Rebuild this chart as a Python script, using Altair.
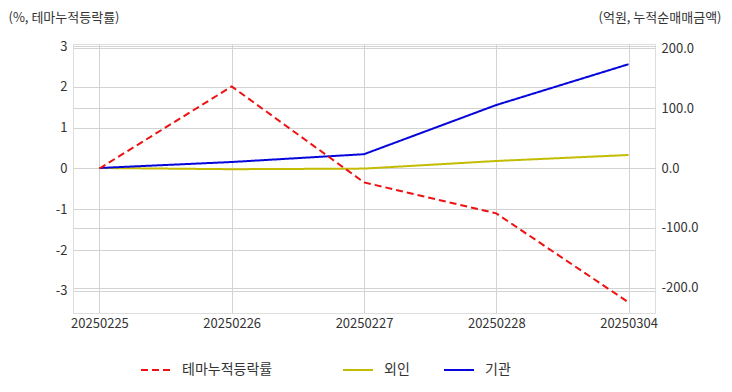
import altair as alt
import pandas as pd

dates = ["20250225", "20250226", "20250227", "20250228", "20250304"]
theme_rate = [0.0, 2.01, -0.34, -1.10, -3.28]
foreign = [0.0, -2.0, -1.0, 11.7, 21.7]
institution = [0.0, 10.0, 23.0, 105.0, 173.0]

left_names = ["테마누적등락률"]
right_names = ["외인", "기관"]
left_colors = ["#ee1111"]
right_colors = ["#c3bc00", "#0505dc"]
left_dash = [[7, 4]]
right_dash = [[1, 0], [1, 0]]

left_ticks = [-3, -2, -1, 0, 1, 2, 3]
right_ticks = [-200, -100, 0, 100, 200]

FONT = "Noto Sans CJK KR"

df_left = pd.DataFrame({"date": dates, "value": theme_rate, "series": left_names[0]})
df_right = pd.concat([
    pd.DataFrame({"date": dates, "value": foreign, "series": right_names[0]}),
    pd.DataFrame({"date": dates, "value": institution, "series": right_names[1]}),
])

x_enc = alt.X("date:O", sort=dates, scale=alt.Scale(type="point", padding=0.2),
              axis=alt.Axis(title=None, labelAngle=0, grid=True, ticks=False, domain=False,
                            labelPadding=4, labelFontSize=13, labelColor="#333333",
                            gridColor="#d3d3d3"))


def legend(x):
    return alt.Legend(title=None, orient="none", direction="horizontal",
                      legendX=x, legendY=310,
                      symbolType="stroke", symbolSize=900, symbolStrokeWidth=2,
                      labelFontSize=14, labelColor="#333333", labelFont=FONT,
                      columnPadding=30, labelOffset=10)


minus_fix = "replace(datum.label, '\u2212', '-')"

left = alt.Chart(df_left).mark_line(strokeWidth=2).encode(
    x=x_enc,
    y=alt.Y("value:Q", scale=alt.Scale(domain=[-3.54, 3.05], nice=False, zero=False),
            axis=alt.Axis(title="(%, 테마누적등락률)", values=left_ticks, orient="left",
                          titleAngle=0, titleX=-65, titleY=-33, titleAlign="left",
                          titleBaseline="top", titleFontSize=13, titleFontWeight="normal",
                          titleColor="#333333", labelFontSize=13, labelColor="#333333",
                          labelExpr=minus_fix,
                          labelPadding=6, ticks=False, domain=False, grid=True,
                          gridColor="#d3d3d3")),
    color=alt.Color("series:N", scale=alt.Scale(domain=left_names, range=left_colors),
                    legend=legend(67)),
    strokeDash=alt.StrokeDash("series:N", scale=alt.Scale(domain=left_names, range=left_dash),
                              legend=legend(67)),
)

right = alt.Chart(df_right).mark_line(strokeWidth=2).encode(
    x=x_enc,
    y=alt.Y("value:Q", scale=alt.Scale(domain=[-241.7, 206.7], nice=False, zero=False),
            axis=alt.Axis(title="(억원, 누적순매매금액)", values=right_ticks, orient="right",
                          format=".1f", labelExpr=minus_fix,
                          titleAngle=0, titleX=66, titleY=-33, titleAlign="right",
                          titleBaseline="top", titleFontSize=13, titleFontWeight="normal",
                          titleColor="#333333", labelFontSize=13, labelColor="#333333",
                          labelPadding=6, ticks=False, domain=False, grid=True,
                          gridColor="#d3d3d3")),
    color=alt.Color("series:N", scale=alt.Scale(domain=right_names, range=right_colors),
                    legend=legend(269)),
    strokeDash=alt.StrokeDash("series:N", scale=alt.Scale(domain=right_names, range=right_dash),
                              legend=legend(269)),
)

chart = alt.layer(right, left).resolve_scale(
    y="independent", color="independent", strokeDash="independent"
).properties(
    width=582, height=269, padding={"top": 3, "left": 0, "right": 0, "bottom": 0}
).configure_view(stroke="#cccccc", strokeWidth=2).configure(font=FONT)

chart.save("out.html", embed_options={"renderer": "svg", "actions": False})
